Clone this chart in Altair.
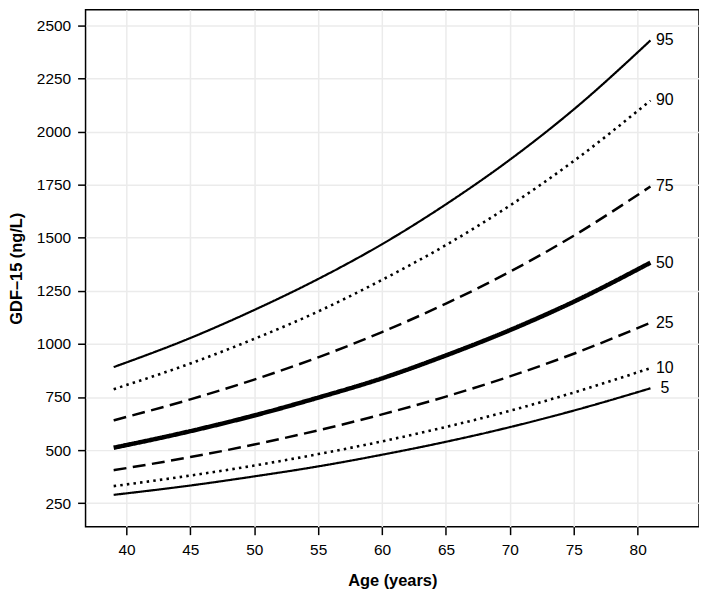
import altair as alt
import pandas as pd

ages = [39, 45, 50, 55, 60, 65, 70, 75, 81]
p95 = [891, 1028, 1160, 1306, 1470, 1658, 1868, 2105, 2430]
p90 = [787, 908, 1024, 1153, 1302, 1466, 1652, 1862, 2147]
p75 = [640, 739, 832, 937, 1056, 1190, 1340, 1510, 1742]
p50 = [511, 589, 663, 747, 838, 946, 1065, 1199, 1383]
p25 = [405, 467, 526, 593, 668, 752, 847, 954, 1100]
p10 = [330, 380, 427, 481, 541, 609, 685, 771, 886]
p05 = [289, 333, 376, 423, 478, 539, 608, 686, 791]

series = {"95": p95, "90": p90, "75": p75, "50": p50, "25": p25, "10": p10, "5": p05}
order = ["95", "90", "75", "50", "25", "10", "5"]

styles = {
    "95": ([1, 0], 2.2),
    "90": ([2.5, 4.2], 2.6),
    "75": ([13, 6.5], 2.5),
    "50": ([1, 0], 4.5),
    "25": ([13, 6.5], 2.5),
    "10": ([2.5, 4.2], 2.6),
    "5": ([1, 0], 2.2),
}

FONT = "Liberation Sans"

x = alt.X("age:Q", scale=alt.Scale(domain=[36.8, 84.8], nice=False, zero=False),
          axis=alt.Axis(values=[40, 45, 50, 55, 60, 65, 70, 75, 80], title="Age (years)",
                        titlePadding=15, labelPadding=8, format="d"))
y = alt.Y("value:Q", scale=alt.Scale(domain=[139, 2575], nice=False, zero=False),
          axis=alt.Axis(values=[250, 500, 750, 1000, 1250, 1500, 1750, 2000, 2250, 2500],
                        title="GDF–15 (ng/L)", titlePadding=12, labelPadding=7, format="d"))

layers = []
for k in order:
    d = pd.DataFrame({"age": ages, "value": series[k]})
    dash, w = styles[k]
    layers.append(
        alt.Chart(d).mark_line(color="black", interpolate="monotone", strokeCap="butt",
                               strokeDash=dash, strokeWidth=w).encode(x=x, y=y)
    )

labels = pd.DataFrame({"age": [ages[-1]] * len(order),
                       "value": [series[k][-1] for k in order],
                       "pct": order})
text = alt.Chart(labels).mark_text(align="center", baseline="middle", dx=14.5, fontSize=16,
                                   font=FONT, color="black").encode(
    x="age:Q", y="value:Q", text="pct:N")

chart = alt.layer(*layers, text).properties(
    width=617, height=520, padding={"left": 0, "top": 0, "right": 0, "bottom": 0}
).configure_view(
    stroke="black", strokeWidth=1.5
).configure_axis(
    labelFont=FONT, titleFont=FONT, labelFontSize=15.5, titleFontSize=16.5,
    titleFontWeight="bold", labelColor="black", titleColor="black",
    grid=True, gridColor="#ebebeb", gridWidth=1.5,
    domain=False, tickColor="black", tickWidth=1.5, tickSize=8,
)

chart.save("out.html", embed_options={"renderer": "svg", "actions": False})
